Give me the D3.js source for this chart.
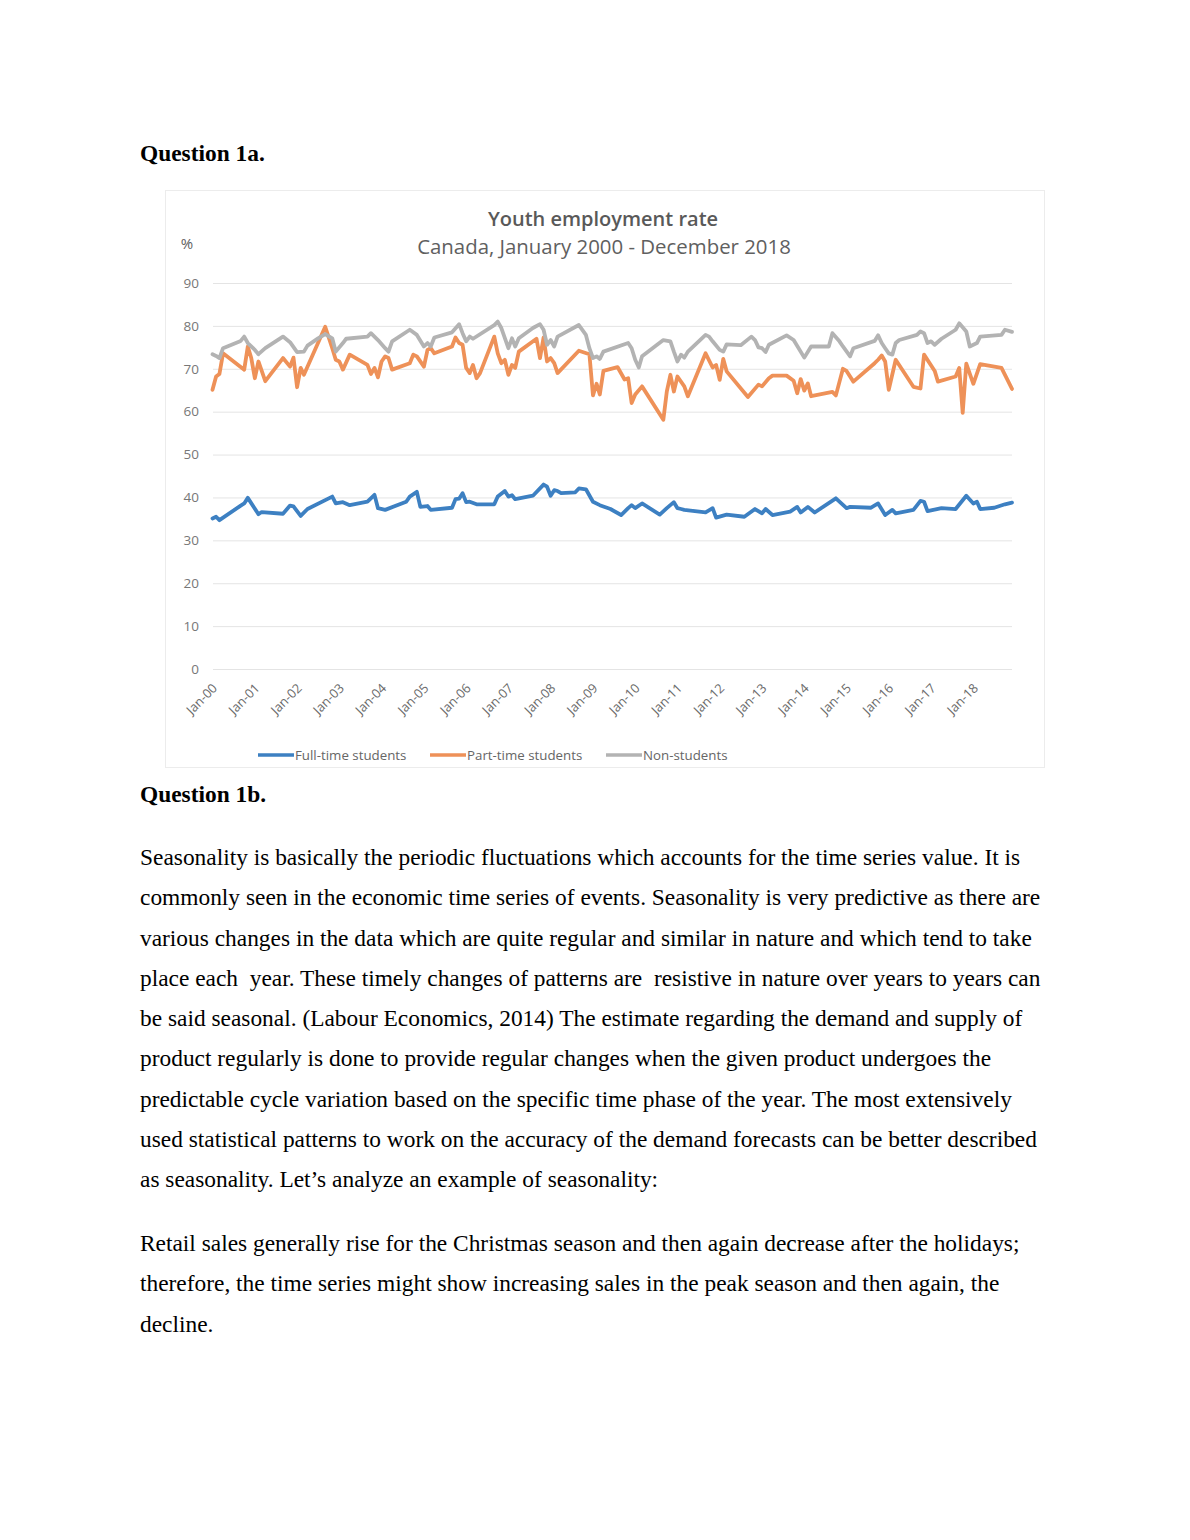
<!DOCTYPE html>
<html>
<head>
<meta charset="utf-8">
<script src="https://cdn.jsdelivr.net/npm/d3@7/dist/d3.min.js"></script>
<style>
  body { margin: 0; background: #fff; }
  svg { display: block; }
  .doc { font-family: "Liberation Serif", "Times New Roman", serif; font-size: 23.4px; fill: #000; white-space: pre; }
  .chartText { font-family: "Open Sans", "Noto Sans", sans-serif; }
</style>
</head>
<body>
<svg id="page" width="1190" height="1540"></svg>
<script>
// [month index since Jan 2000, employment rate %]
const fullTime = [[0,35.1],[1,35.5],[2,34.7],[8,38.1],[9,38.6],[10,39.9],[13,36.1],[14,36.6],[20,36.2],[22,38.1],[23,37.9],[25,35.7],[27,37.3],[34,40.2],[35,38.6],[37,38.9],[39,38.2],[44,39.0],[46,40.6],[47,37.5],[49,37.1],[55,39.0],[56,40.2],[58,41.3],[59,37.8],[61,38.0],[62,37.1],[68,37.6],[69,39.6],[70,39.7],[71,41.0],[72,38.9],[73,39.0],[75,38.4],[80,38.4],[81,40.2],[83,41.5],[84,40.2],[85,40.5],[86,39.6],[91,40.4],[94,43.0],[95,42.5],[96,40.4],[97,41.7],[98,41.5],[99,41.0],[103,41.2],[104,42.1],[106,41.9],[108,39.0],[110,38.2],[113,37.3],[116,35.9],[118,37.5],[119,38.2],[120,37.5],[122,38.6],[127,36.0],[129,37.5],[131,38.9],[132,37.5],[133,37.3],[134,37.1],[140,36.5],[142,37.5],[143,35.3],[146,36.0],[151,35.5],[154,37.3],[156,36.3],[157,37.3],[159,35.9],[164,36.7],[166,37.8],[167,36.5],[169,37.8],[171,36.5],[177,39.8],[180,37.5],[181,37.8],[187,37.6],[189,38.6],[191,35.9],[193,37.1],[194,36.3],[199,37.1],[201,39.2],[202,39.0],[203,36.8],[207,37.5],[211,37.3],[214,40.4],[216,38.6],[217,39.0],[218,37.3],[222,37.6],[225,38.4],[227,38.8]];

const partTime = [[0,65.1],[1,68.2],[2,68.8],[3,73.6],[9,69.8],[10,75.2],[11,72.5],[12,67.8],[13,71.7],[15,67.1],[20,72.5],[22,70.5],[23,72.6],[24,65.7],[25,70.2],[26,68.6],[32,79.8],[34,74.8],[35,72.1],[36,71.7],[37,69.8],[39,73.3],[44,70.9],[45,68.8],[46,70.2],[47,68.0],[48,71.7],[49,72.9],[50,72.5],[51,69.8],[56,71.3],[57,73.3],[58,72.9],[60,70.5],[61,74.4],[62,74.8],[63,73.6],[68,75.2],[69,77.3],[70,76.0],[71,75.6],[72,70.2],[73,69.0],[74,70.9],[75,67.8],[76,69.0],[80,77.5],[81,73.6],[82,71.3],[83,72.1],[84,68.6],[85,70.9],[86,70.2],[87,74.0],[92,77.0],[93,72.5],[94,77.3],[95,71.7],[96,72.5],[97,71.3],[98,69.0],[104,74.2],[107,73.4],[108,63.8],[109,66.5],[110,64.0],[111,69.5],[115,70.4],[117,67.5],[118,67.8],[119,62.0],[120,64.0],[122,65.9],[128,58.1],[129,64.7],[130,68.6],[131,64.7],[132,68.2],[134,65.9],[135,63.6],[140,73.6],[142,70.3],[143,70.9],[144,67.4],[145,72.3],[146,69.4],[152,63.4],[155,66.3],[156,65.9],[158,67.8],[159,68.4],[163,68.4],[165,67.2],[166,64.3],[167,67.6],[168,64.9],[169,66.6],[170,63.6],[176,64.6],[177,63.8],[179,70.0],[180,69.5],[182,67.0],[188,71.3],[189,72.1],[190,73.1],[191,71.7],[192,65.1],[194,72.1],[199,65.8],[201,65.4],[202,73.3],[205,69.5],[206,67.0],[211,68.2],[212,70.2],[213,59.7],[214,71.2],[216,66.5],[218,71.1],[224,70.2],[227,65.3]];

const nonStudents = [[0,73.4],[1,73.0],[2,72.5],[3,74.8],[8,76.5],[9,77.5],[10,76.0],[12,74.4],[13,73.4],[15,74.8],[20,77.5],[22,76.2],[24,73.9],[26,74.0],[27,75.4],[30,77.1],[32,78.1],[34,77.1],[35,74.0],[37,76.0],[38,77.0],[44,77.5],[45,78.3],[47,76.7],[49,74.8],[50,74.0],[51,76.4],[56,79.1],[58,77.9],[60,75.2],[61,76.0],[62,75.2],[63,77.3],[68,78.5],[70,80.4],[71,78.3],[72,76.4],[73,77.5],[74,77.0],[80,80.2],[81,81.0],[82,79.5],[84,74.8],[85,77.1],[86,75.2],[87,77.1],[91,79.5],[93,80.4],[94,79.1],[95,75.6],[96,76.7],[97,75.2],[98,77.5],[104,80.2],[106,77.9],[107,74.8],[108,72.5],[109,72.9],[110,72.3],[111,74.0],[118,76.0],[119,74.8],[120,72.1],[121,70.3],[122,72.9],[128,76.7],[130,76.4],[131,74.0],[132,71.7],[133,73.3],[134,72.6],[135,74.0],[140,77.9],[141,77.5],[142,76.4],[144,74.4],[145,74.0],[146,75.7],[150,75.5],[153,77.5],[154,76.7],[155,75.0],[156,74.8],[157,73.9],[158,75.6],[163,77.8],[165,76.7],[168,72.6],[170,75.2],[175,75.2],[176,78.3],[178,76.4],[179,75.2],[181,72.9],[182,74.8],[188,76.5],[189,77.8],[190,76.0],[191,74.8],[192,73.6],[193,73.3],[194,76.0],[195,76.7],[200,77.9],[201,78.7],[202,78.3],[203,76.0],[204,76.4],[205,75.6],[207,77.0],[211,79.1],[212,80.6],[214,78.7],[215,75.2],[217,76.0],[218,77.5],[224,77.9],[225,79.1],[227,78.6]];

const seriesNames = ["Full-time students", "Part-time students", "Non-students"];
const seriesColors = ["#3d80c2", "#ee9158", "#b3b3b3"];
const yTicks = [0, 10, 20, 30, 40, 50, 60, 70, 80, 90];

const paragraph1 = [
  "Seasonality is basically the periodic fluctuations which accounts for the time series value. It is",
  "commonly seen in the economic time series of events. Seasonality is very predictive as there are",
  "various changes in the data which are quite regular and similar in nature and which tend to take",
  "place each  year. These timely changes of patterns are  resistive in nature over years to years can",
  "be said seasonal. (Labour Economics, 2014) The estimate regarding the demand and supply of",
  "product regularly is done to provide regular changes when the given product undergoes the",
  "predictable cycle variation based on the specific time phase of the year. The most extensively",
  "used statistical patterns to work on the accuracy of the demand forecasts can be better described",
  "as seasonality. Let\u2019s analyze an example of seasonality:"
];
const paragraph2 = [
  "Retail sales generally rise for the Christmas season and then again decrease after the holidays;",
  "therefore, the time series might show increasing sales in the peak season and then again, the",
  "decline."
];

const svg = d3.select("#page");
const start = new Date(2000, 0, 1);
const toDate = m => d3.timeMonth.offset(start, m);

// document text
svg.append("text").attr("class", "doc").attr("x", 140).attr("y", 161)
  .style("font-weight", "bold").text("Question 1a.");
svg.append("text").attr("class", "doc").attr("x", 140).attr("y", 802)
  .style("font-weight", "bold").text("Question 1b.");

svg.selectAll(".p1").data(paragraph1).enter().append("text")
  .attr("class", "doc p1").attr("x", 140).attr("y", (d, i) => 865 + i * 40.25).text(d => d);
svg.selectAll(".p2").data(paragraph2).enter().append("text")
  .attr("class", "doc p2").attr("x", 140).attr("y", (d, i) => 1251 + i * 40.25).text(d => d);

// chart frame
svg.append("rect").attr("x", 165.5).attr("y", 190.5).attr("width", 879).attr("height", 577)
  .attr("fill", "#fff").attr("stroke", "#ececec");

const chart = svg.append("g").attr("class", "chartText");

const x = d3.scaleTime().domain([start, new Date(2018, 11, 1)]).range([212.5, 1012]);
const y = d3.scaleLinear().domain([0, 90]).range([669, 283]);

chart.append("text").attr("x", 603).attr("y", 226).attr("text-anchor", "middle")
  .attr("font-size", 20).attr("font-weight", 600).attr("fill", "#595959")
  .text("Youth employment rate");
chart.append("text").attr("x", 604).attr("y", 254).attr("text-anchor", "middle")
  .attr("font-size", 20.4).attr("fill", "#606060")
  .text("Canada, January 2000 - December 2018");
chart.append("text").attr("x", 187).attr("y", 249).attr("text-anchor", "middle")
  .attr("font-size", 15).attr("fill", "#606060").text("%");

// y grid + labels
const yAxis = d3.axisLeft(y).tickValues(yTicks).tickSize(-(1012 - 213)).tickPadding(14);
const yG = chart.append("g").attr("transform", "translate(213,0)").call(yAxis);
yG.select(".domain").remove();
yG.selectAll(".tick line").attr("stroke", "#e4e4e4");
yG.selectAll(".tick text").attr("font-size", 13.5).attr("fill", "#777")
  .attr("font-family", "'Open Sans', sans-serif");

// x labels
const xAxis = d3.axisBottom(x).ticks(d3.timeYear.every(1)).tickSize(0).tickFormat(d3.timeFormat("Jan-%y"));
const xG = chart.append("g").attr("transform", "translate(0,669)").call(xAxis);
xG.select(".domain").remove();
xG.selectAll(".tick").filter(d => d.getFullYear() > 2018).remove();
xG.selectAll(".tick text")
  .attr("font-size", 12.8).attr("fill", "#6a6a6a").attr("font-family", "'Open Sans', sans-serif")
  .attr("text-anchor", "end").attr("dy", null).attr("y", null)
  .attr("transform", "translate(5,20) rotate(-45)");

// lines
const line = d3.line().x(d => x(toDate(d[0]))).y(d => y(d[1]));
const allSeries = [fullTime, partTime, nonStudents];
chart.selectAll(".series").data(allSeries).enter().append("path")
  .attr("class", "series")
  .attr("d", line)
  .attr("fill", "none")
  .attr("stroke", (d, i) => seriesColors[i])
  .attr("stroke-width", 3.8)
  .attr("stroke-linejoin", "round")
  .attr("stroke-linecap", "round");

// legend
const legendX = [258, 430, 606];
const legend = chart.selectAll(".legend").data(seriesNames).enter().append("g")
  .attr("transform", (d, i) => `translate(${legendX[i]},755)`);
legend.append("line").attr("x1", 0).attr("x2", 36).attr("y1", 0).attr("y2", 0)
  .attr("stroke", (d, i) => seriesColors[i]).attr("stroke-width", 3.6);
legend.append("text").attr("x", 37).attr("y", 4.8).attr("font-size", 13.3)
  .attr("fill", "#666").text(d => d);
</script>
</body>
</html>
